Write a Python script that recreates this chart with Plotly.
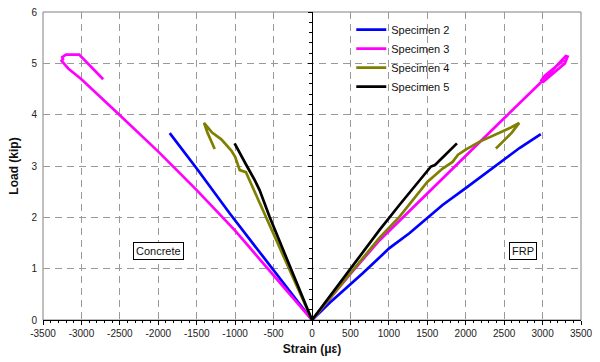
import plotly.graph_objects as go

# ---------------- data ----------------
series_names = ["Specimen 2", "Specimen 3", "Specimen 4", "Specimen 5"]
series_colors = ["#0000FF", "#FF00FF", "#808000", "#000000"]

# Specimen 2
s2_concrete_strain = [0, -500, -1072, -1500, -1851]
s2_concrete_load = [0, 0.98, 2.08, 2.95, 3.64]
s2_frp_strain = [0, 227, 660, 1007, 1267, 1699, 2000, 2436, 2700, 2977]
s2_frp_load = [0, 0.33, 0.91, 1.40, 1.69, 2.24, 2.57, 3.05, 3.35, 3.62]

# Specimen 3
s3_concrete_strain = [0, -500, -1000, -1500, -2000, -2500, -3000, -3172,
                      -3258, -3240, -3250, -3202, -3029, -2717]
s3_concrete_load = [0, 0.88, 1.74, 2.53, 3.28, 3.99, 4.69, 4.90,
                    5.05, 5.08, 5.12, 5.17, 5.17, 4.69]
s3_frp_strain = [0, 500, 877, 1500, 2000, 2479, 3000, 3302, 3325, 3290, 3010, 2985, 3030, 3280]
s3_frp_load = [0, 0.90, 1.55, 2.47, 3.20, 3.90, 4.66, 5.14, 5.13, 5.00, 4.64, 4.67, 4.76, 5.07]

# Specimen 4
s4_concrete_strain = [0, -300, -595, -812, -860, -940, -960, -1000, -1050, -1180,
                      -1300, -1405, -1360, -1300, -1266]
s4_concrete_load = [0, 1.00, 2.01, 2.73, 2.88, 2.92, 3.00, 3.18, 3.30, 3.52,
                    3.65, 3.84, 3.65, 3.45, 3.33]
s4_frp_strain = [0, 500, 877, 1137, 1500, 1700, 1829, 1900, 2000, 2176, 2400, 2588,
                 2696, 2600, 2500, 2393]
s4_frp_load = [0, 0.92, 1.60, 2.01, 2.69, 2.95, 3.08, 3.22, 3.32, 3.47, 3.62, 3.75,
               3.84, 3.65, 3.50, 3.34]

# Specimen 5
s5_concrete_strain = [0, -300, -552, -682, -747, -855, -1007]
s5_concrete_load = [0, 1.09, 2.01, 2.53, 2.73, 3.02, 3.44]
s5_frp_strain = [0, 500, 877, 1137, 1548, 1600, 1886]
s5_frp_load = [0, 1.00, 1.75, 2.24, 2.99, 3.02, 3.44]

concrete_strain = [s2_concrete_strain, s3_concrete_strain, s4_concrete_strain, s5_concrete_strain]
concrete_load = [s2_concrete_load, s3_concrete_load, s4_concrete_load, s5_concrete_load]
frp_strain = [s2_frp_strain, s3_frp_strain, s4_frp_strain, s5_frp_strain]
frp_load = [s2_frp_load, s3_frp_load, s4_frp_load, s5_frp_load]

x_ticks = list(range(-3500, 3501, 500))
y_ticks = [0, 1, 2, 3, 4, 5, 6]

FONT = "Liberation Sans, Arial, sans-serif"

fig = go.Figure()
for i, name in enumerate(series_names):
    xs = list(concrete_strain[i]) + [None] + list(frp_strain[i])
    ys = list(concrete_load[i]) + [None] + list(frp_load[i])
    fig.add_trace(go.Scatter(
        x=xs, y=ys, mode="lines", name=name,
        line=dict(color=series_colors[i], width=2.7),
        connectgaps=False,
    ))

# center vertical axis (x = 0) with ticks
fig.add_trace(go.Scatter(x=[None], y=[None], yaxis="y2", showlegend=False, hoverinfo="skip"))

grid_color = "#9a9a9a"
fig.update_layout(
    width=600, height=362,
    margin=dict(l=43, r=19, t=12, b=42, autoexpand=False),
    paper_bgcolor="white", plot_bgcolor="white",
    font=dict(family=FONT, size=10, color="#222"),
    showlegend=True,
    legend=dict(
        x=0.573, y=0.99, xanchor="left", yanchor="top",
        bgcolor="rgba(0,0,0,0)", borderwidth=0,
        font=dict(family=FONT, size=11, color="#111"),
        tracegroupgap=0,
    ),
    xaxis=dict(
        range=[-3500, 3500], tickvals=x_ticks, ticktext=[str(v) for v in x_ticks],
        showgrid=True, gridcolor=grid_color, griddash="7px,5px", gridwidth=1,
        zeroline=False, showline=True, linecolor="black", linewidth=1,
        ticks="outside", ticklen=4, tickcolor="black", automargin=False,
        minor=dict(dtick=100, ticks="outside", ticklen=2, tickcolor="black", showgrid=False),
        title=dict(text="<b>Strain (\u03bc\u03b5)</b>", font=dict(family=FONT, size=12, color="#111"), standoff=6),
        tickfont=dict(family=FONT, size=10, color="#222"),
        fixedrange=True,
    ),
    yaxis=dict(
        range=[0, 6], tickvals=y_ticks, automargin=False,
        showgrid=True, gridcolor=grid_color, griddash="7px,5px", gridwidth=1,
        zeroline=False, showline=False, ticks="", ticklabelstandoff=5,
        title=dict(text="<b>Load (kip)</b>", font=dict(family=FONT, size=12, color="#111"), standoff=10),
        tickfont=dict(family=FONT, size=10, color="#222"),
        fixedrange=True,
    ),
    yaxis2=dict(
        range=[0, 6], overlaying="y", anchor="free", position=0.5, side="left",
        showgrid=False, zeroline=False, showline=True, linecolor="black", linewidth=1,
        ticks="outside", ticklen=4, tickcolor="black", dtick=1, showticklabels=False,
        automargin=False,
        minor=dict(dtick=0.2, ticks="outside", ticklen=3, tickcolor="black", showgrid=False),
        fixedrange=True,
    ),
    shapes=[dict(type="rect", xref="paper", yref="paper", x0=0, x1=1, y0=0, y1=1,
                 line=dict(color="#808080", width=1), layer="between")],
    annotations=[
        dict(x=-2000, y=1.35, xref="x", yref="y", text="Concrete", showarrow=False,
             font=dict(family=FONT, size=11, color="#111"), bgcolor="white",
             bordercolor="black", borderwidth=1, borderpad=2),
        dict(x=2750, y=1.35, xref="x", yref="y", text="FRP", showarrow=False,
             font=dict(family=FONT, size=11, color="#111"), bgcolor="white",
             bordercolor="black", borderwidth=1, borderpad=2),
    ],
)

fig.write_html("out.html")
